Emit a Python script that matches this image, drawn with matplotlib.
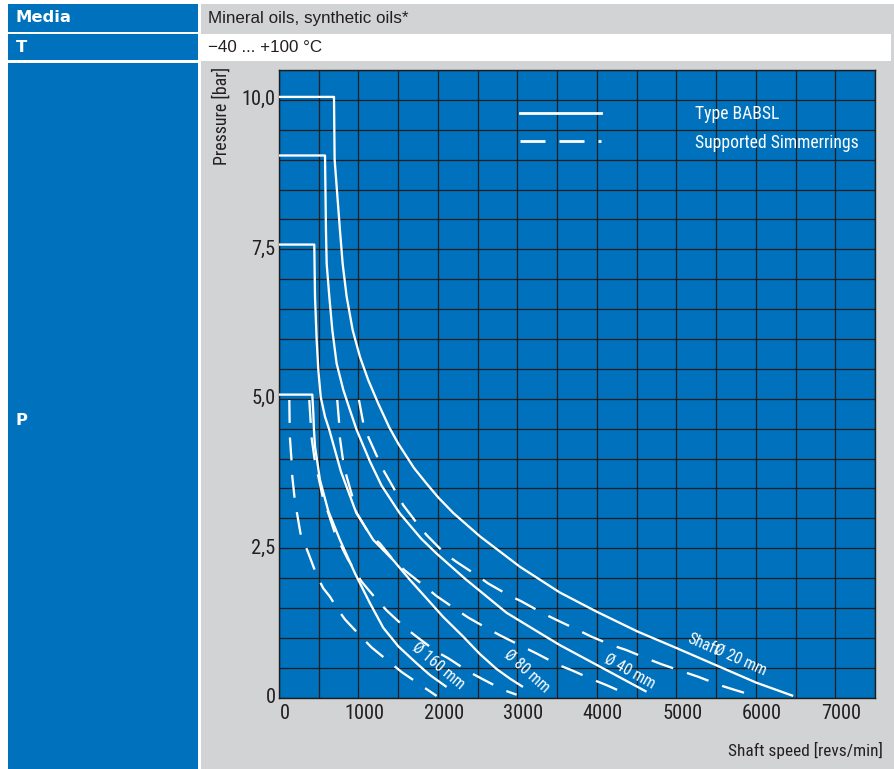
import os
import matplotlib
matplotlib.use('Agg')
import matplotlib.pyplot as plt
from matplotlib.patches import Rectangle
from matplotlib.lines import Line2D
from matplotlib.ticker import MultipleLocator, FixedLocator
from matplotlib.textpath import TextPath
from matplotlib.font_manager import FontProperties
from matplotlib import font_manager as fm
import matplotlib.transforms as mtransforms

# ---------------- data ----------------
# Solid curves: Type BABSL
babsl_20_rpm = [0, 692, 700, 767, 801, 851, 927, 1019, 1124, 1249, 1388, 1501, 1700, 1858, 2004, 2193, 2528, 3032, 3534, 3996, 4507, 5003, 5506, 6009, 6470]
babsl_20_bar = [10.05, 10.05, 9.0, 7.82, 7.26, 6.71, 6.15, 5.70, 5.31, 4.92, 4.52, 4.25, 3.84, 3.58, 3.35, 3.09, 2.70, 2.19, 1.76, 1.44, 1.11, 0.83, 0.54, 0.25, 0.03]

babsl_40_rpm = [0, 579, 591, 600, 633, 671, 725, 809, 893, 977, 1145, 1290, 1522, 1790, 1984, 2350, 2864, 3409, 3534, 4038, 4625]
babsl_40_bar = [9.07, 9.07, 7.82, 7.26, 6.71, 6.15, 5.59, 5.15, 4.81, 4.48, 3.95, 3.55, 3.08, 2.66, 2.41, 1.98, 1.42, 0.98, 0.88, 0.52, 0.10]

babsl_80_rpm = [0, 444, 453, 474, 495, 525, 579, 633, 780, 970, 1186, 1438, 1648, 1858, 2067, 2319, 2528, 2738, 2906, 3070]
babsl_80_bar = [7.58, 7.58, 6.71, 5.98, 5.48, 5.03, 4.70, 4.48, 3.78, 3.10, 2.64, 2.30, 1.97, 1.66, 1.35, 1.02, 0.73, 0.48, 0.32, 0.18]

babsl_160_rpm = [0, 419, 432, 440, 453, 516, 621, 767, 956, 1145, 1312, 1501, 1732, 1899, 2109]
babsl_160_bar = [5.07, 5.07, 4.76, 4.48, 4.20, 3.64, 3.12, 2.64, 2.08, 1.58, 1.17, 0.86, 0.575, 0.38, 0.18]

# Dashed curves: supported Simmerrings
supp_20_rpm = [1006, 1061, 1124, 1249, 1325, 1480, 1564, 1752, 1858, 2088, 2235, 2487, 2633, 2884, 3053, 3325, 3493, 3765, 3933, 4205, 4365, 4658, 4814, 5120, 5275, 5569, 5736, 6009]
supp_20_bar = [4.98, 4.59, 4.36, 3.99, 3.78, 3.42, 3.22, 2.89, 2.72, 2.41, 2.27, 2.05, 1.91, 1.72, 1.61, 1.41, 1.30, 1.13, 1.02, 0.87, 0.80, 0.64, 0.56, 0.42, 0.35, 0.20, 0.13, 0.02]

supp_40_rpm = [733, 759, 767, 809, 851, 935, 977, 1145, 1270, 1459, 1600, 1837, 1983, 2235, 2382, 2646, 2801, 3073, 3241, 3514, 3682, 3954, 4122, 4394]
supp_40_bar = [4.98, 4.56, 4.34, 3.94, 3.70, 3.31, 3.09, 2.72, 2.58, 2.27, 2.11, 1.86, 1.70, 1.47, 1.34, 1.14, 1.03, 0.85, 0.74, 0.55, 0.46, 0.30, 0.21, 0.05]

supp_80_rpm = [381, 411, 453, 495, 558, 620, 704, 860, 1040, 1249, 1362, 1598, 1732, 1983, 2130, 2394, 2549, 2822, 2990]
supp_80_bar = [4.98, 4.34, 3.94, 3.70, 3.31, 3.09, 2.75, 2.33, 1.94, 1.61, 1.45, 1.16, 1.02, 0.77, 0.66, 0.43, 0.32, 0.13, 0.05]

supp_160_rpm = [130, 134, 138, 160, 167, 201, 230, 270, 369, 474, 557, 641, 733, 830, 1048, 1166, 1409, 1543, 1795, 1983]
supp_160_bar = [4.98, 4.56, 4.34, 3.92, 3.70, 3.28, 3.06, 2.75, 2.42, 2.05, 1.83, 1.69, 1.49, 1.31, 1.00, 0.84, 0.575, 0.43, 0.20, 0.03]

x_ticks = [0, 1000, 2000, 3000, 4000, 5000, 6000, 7000]
x_tick_labels = ['0', '1000', '2000', '3000', '4000', '5000', '6000', '7000']
y_ticks = [0, 2.5, 5.0, 7.5, 10.0]
y_tick_labels = ['0', '2,5', '5,0', '7,5', '10,0']

legend_labels = ['Type BABSL', 'Supported Simmerrings']
curve_labels = ['Ø 160 mm', 'Ø 80 mm', 'Ø 40 mm', 'Ø 20 mm']
curve_label_pos = [(2004, 0.535), (3116, 0.45), (4415, 0.45), (5803, 0.63)]
curve_label_rot = [-40, -42, -29, -24]

header_rows = ['Media', 'T', 'P']
header_values = ['Mineral oils, synthetic oils*', '\u221240 ... +100 \u00b0C']

# ---------------- fonts ----------------
def find_narrow():
    files = list(set(fm.findSystemFonts() + [f.fname for f in fm.fontManager.ttflist]))
    bad = ('bold', 'italic', 'oblique', 'light', 'thin', 'black', 'medium',
           'semi', 'extra', 'serif', 'mono', 'heavy', 'book')
    prefs = ['liberationsansnarrow-regular', 'arialnarrow', 'robotocondensed-regular',
             'dejavusanscondensed', 'notosans-condensed', 'opensans_condensed',
             'opensanscondensed', 'opensans-condensed', 'lato-condensed']
    for p in prefs:
        for f in files:
            b = os.path.basename(f).lower()
            if p in b and not any(e in b.replace(p, '') for e in bad):
                return f
    for f in files:
        b = os.path.basename(f).lower()
        if ('condensed' in b or 'narrow' in b) and not any(e in b for e in bad) \
                and b.endswith(('.ttf', '.otf')):
            return f
    return None


NARROW_FILE = find_narrow()


def narrow(size):
    if NARROW_FILE:
        return FontProperties(fname=NARROW_FILE, size=size)
    return FontProperties(family=['Roboto', 'DejaVu Sans'], size=size)


def fit(text, maker, target_px):
    tp = TextPath((0, 0), text, size=10, prop=maker(10))
    w = tp.get_extents().width * 100 / 72
    return 10 * target_px / w


def regular(size):
    return FontProperties(family=['Liberation Sans', 'DejaVu Sans'], size=size)


def boldf(size):
    return FontProperties(family=['DejaVu Sans'], weight='bold', size=size)


tick_size = fit('1000', narrow, 34) * 1.1
xlab_size = fit('Shaft speed [revs/min]', narrow, 152)
ylab_size = fit('Pressure [bar]', narrow, 96)
leg_size = fit('Supported Simmerrings', narrow, 162)
ann_size = fit('Ø 160 mm', narrow, 56) * 1.1
head_size = fit('Mineral oils, synthetic oils*', regular, 198)
bold_size = fit('Media', boldf, 53)

# ---------------- styling ----------------
W, H = 895, 769
BLUE = '#0071BC'
GREY = '#D2D3D5'
INK = '#231F20'
GRID = '#1E1E1E'
LW = 1.65
DASH = (16.5 / LW, 10.5 / LW)

fig = plt.figure(figsize=(W / 100, H / 100), dpi=100)
fig.patch.set_facecolor('white')


def box(x0, y0, x1, y1, color):
    fig.add_artist(Rectangle((x0 / W, 1 - y1 / H), (x1 - x0) / W, (y1 - y0) / H,
                             transform=fig.transFigure, facecolor=color,
                             edgecolor='none', zorder=0))


box(8, 4, 198.3, 31.7, BLUE)
box(8, 34.3, 198.3, 60.3, BLUE)
box(8, 63.3, 198.3, 769, BLUE)
box(201, 4, 895, 769, GREY)
box(201, 33.5, 891.5, 60.5, 'white')

row_y = [18, 47.5, 420]
for name, yy in zip(header_rows, row_y):
    fig.text(16 / W, 1 - yy / H, name, color='white', fontproperties=boldf(bold_size),
             va='center', ha='left')
for val, yy in zip(header_values, row_y[:2]):
    fig.text(208 / W, 1 - (yy + 0.5) / H, val, color=INK,
             fontproperties=regular(head_size), va='center', ha='left')

# ---------------- chart ----------------
ax = fig.add_axes([279 / W, 1 - 697.7 / H, (875 - 279) / W, (697.7 - 70) / H])
ax.set_facecolor(BLUE)
ax.set_xlim(0, 7500)
ax.set_ylim(0, 10.5)
ax.xaxis.set_major_locator(FixedLocator(x_ticks))
ax.xaxis.set_minor_locator(MultipleLocator(500))
ax.yaxis.set_major_locator(FixedLocator(y_ticks))
ax.yaxis.set_minor_locator(MultipleLocator(0.5))
ax.set_xticklabels(x_tick_labels, fontproperties=narrow(tick_size), color=INK)
ax.set_yticklabels(y_tick_labels, fontproperties=narrow(tick_size), color=INK)
ax.tick_params(which='both', length=0)
ax.tick_params(axis='x', pad=4.5)
ax.tick_params(axis='y', pad=2.5)
ax.grid(which='both', color=GRID, lw=0.9)
ax.set_axisbelow(True)
for sp in ax.spines.values():
    sp.set_color(GRID)
    sp.set_linewidth(1.0)

offset = mtransforms.ScaledTranslation(6 / 100, 0, fig.dpi_scale_trans)
for lbl in ax.get_xticklabels():
    lbl.set_transform(lbl.get_transform() + offset)
offset_y = mtransforms.ScaledTranslation(0, 2 / 100, fig.dpi_scale_trans)
for lbl in ax.get_yticklabels():
    lbl.set_transform(lbl.get_transform() + offset_y)

solid = [(babsl_20_rpm, babsl_20_bar), (babsl_40_rpm, babsl_40_bar),
         (babsl_80_rpm, babsl_80_bar), (babsl_160_rpm, babsl_160_bar)]
dashed = [(supp_20_rpm, supp_20_bar), (supp_40_rpm, supp_40_bar),
          (supp_80_rpm, supp_80_bar), (supp_160_rpm, supp_160_bar)]
for xs, ys in solid:
    ax.plot(xs, ys, color='white', lw=LW, solid_joinstyle='round',
            solid_capstyle='butt', zorder=3)
for xs, ys in dashed:
    ax.plot(xs, ys, color='white', lw=LW, dashes=DASH, dash_capstyle='butt',
            dash_joinstyle='round', zorder=3)

for lab, (xx, yy), rot in zip(curve_labels, curve_label_pos, curve_label_rot):
    ax.text(xx, yy, lab, rotation=rot, rotation_mode='anchor', ha='center',
            va='center', color='white', fontproperties=narrow(ann_size), zorder=4)
ax.text(5344, 0.886, 'Shaft', rotation=-24, rotation_mode='anchor', ha='center',
        va='center', color='white', fontproperties=narrow(ann_size), zorder=4)

handles = [Line2D([], [], color='white', lw=2.0),
           Line2D([], [], color='white', lw=2.0, dashes=(25 / 2.0 * 0.72, 14 / 2.0 * 0.72))]
fs_px = leg_size * 100 / 72
leg = ax.legend(handles, legend_labels, loc='upper left',
                bbox_to_anchor=((520 - 279) / 596, (697.7 - 105) / 627.7),
                frameon=False, borderpad=0, borderaxespad=0,
                handlelength=81 / fs_px, handletextpad=(695 - 601) / fs_px,
                labelspacing=0.6, prop=narrow(leg_size),
                labelcolor='white')

fig.text(221.7 / W, 1 - 67 / H, 'Pressure [bar]', rotation=90, ha='center',
         va='top', fontproperties=narrow(ylab_size), color=INK)
fig.text(883 / W, 1 - 750 / H, 'Shaft speed [revs/min]', ha='right',
         va='center', fontproperties=narrow(xlab_size), color=INK)

fig.savefig('out.png', dpi=100, facecolor=fig.get_facecolor())
